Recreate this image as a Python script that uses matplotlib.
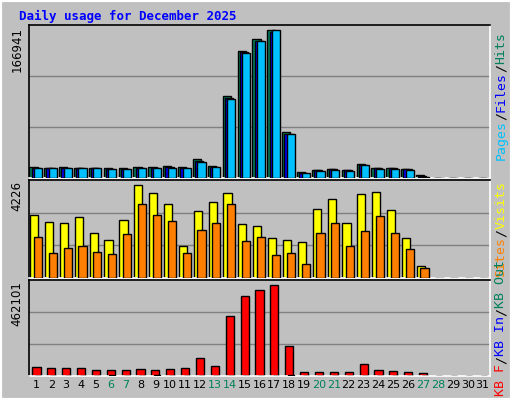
import matplotlib
matplotlib.use("Agg")
import matplotlib.pyplot as plt
import numpy as np

days = list(range(1, 32))
weekend = [6, 7, 13, 14, 20, 21, 27, 28]
hits = [12500, 11300, 12500, 11300, 11300, 11300, 11300, 12000, 12500, 13000, 12000, 21500, 13500,
        92500, 143000, 156600, 166941, 52000, 6800, 9000, 10200, 9000, 15800, 11300, 11300, 10200, 3400, 0, 0, 0, 0]
files = [11800, 11000, 11800, 11000, 11000, 10500, 10500, 11000, 11800, 12000, 11000, 19000, 12800,
         90000, 142000, 155000, 165000, 50000, 6000, 8500, 9800, 8600, 15000, 10800, 10800, 9600, 2500, 0, 0, 0, 0]
pages = [11500, 10800, 11500, 10800, 10800, 10200, 10200, 10800, 11500, 11800, 10800, 18500, 12500,
         89500, 141500, 154500, 166941, 49500, 5800, 8200, 9500, 8300, 14500, 10500, 10500, 9300, 1500, 0, 0, 0, 0]
visits = [2860, 2540, 2500, 2770, 2040, 1730, 2630, 4226, 3860, 3360, 1450, 3040, 3450, 3860, 2450, 2360,
          1820, 1730, 1640, 3140, 3590, 2500, 3820, 3910, 3090, 1820, 550, 0, 0, 0, 0]
sites = [1860, 1140, 1360, 1450, 1180, 1090, 2000, 3360, 2860, 2590, 1140, 2180, 2500, 3360, 1680, 1860,
         1050, 1140, 640, 2040, 2500, 1450, 2130, 2820, 2040, 1320, 450, 0, 0, 0, 0]
kbf = [45700, 40600, 40600, 40600, 30500, 30500, 30500, 35500, 30500, 35500, 40600, 91400, 50800,
       304700, 406200, 436700, 462101, 152300, 20300, 20300, 20300, 20300, 60900, 30500, 25400, 20300, 15200, 0, 0, 0, 0]
kbin = [0, 0, 0, 0, 0, 5000, 0, 0, 5000, 0, 0, 0, 0, 0, 0, 0, 0, 5000, 0, 0, 0, 0, 0, 0, 0, 0, 0, 0, 0, 0, 0]

W, H = 512, 400
fig = plt.figure(figsize=(W/100, H/100), dpi=100, facecolor="#c0c0c0")
fig.patches.append(plt.Rectangle((0, 0), 1, 1, transform=fig.transFigure, fill=False,
                                 edgecolor="white", lw=3))
fig.text(19/W, 1-16/H, "Daily usage for December 2025", color="#0000ff", fontsize=9,
         family="DejaVu Sans Mono", fontweight="bold", va="center")

L, R = 29, 490
def mkax(top, bot):
    ax = fig.add_axes([L/W, 1-bot/H, (R-L)/W, (bot-top)/H])
    ax.set_facecolor("#c0c0c0")
    ax.set_xlim(0.5, 31.5)
    for s in ax.spines.values():
        s.set_color("black"); s.set_linewidth(1.2)
    ax.spines["right"].set_color("white"); ax.spines["bottom"].set_color("white")
    ax.set_xticks([]); ax.set_yticks([])
    return ax

def grid(ax, top):
    for f in (1/3, 2/3):
        ax.axhline(top*f, color="#808080", lw=1, zorder=0)

x = np.array(days, dtype=float)
ek = dict(edgecolor="black", linewidth=1)

ax1 = mkax(25, 178)
t1 = 166941*153/148
ax1.set_ylim(0, t1); grid(ax1, t1)
ax1.bar(x-0.2, hits, 0.55, color="#00805c", **ek, zorder=2)
ax1.bar(x-0.05, files, 0.55, color="#0000ff", **ek, zorder=3)
ax1.bar(x+0.1, pages, 0.55, color="#00c0ff", **ek, zorder=4)
ax1.text(-0.012, 0.99, "166941", transform=ax1.transAxes, rotation=90, ha="right", va="top", fontsize=8.5)

ax2 = mkax(180, 278)
t2 = 4226*98/93
ax2.set_ylim(0, t2); grid(ax2, t2)
ax2.bar(x-0.15, visits, 0.55, color="#ffff00", **ek, zorder=2)
ax2.bar(x+0.1, sites, 0.55, color="#ff8000", **ek, zorder=3)
ax2.text(-0.012, 0.99, "4226", transform=ax2.transAxes, rotation=90, ha="right", va="top", fontsize=8.5)

ax3 = mkax(280, 376)
t3 = 462101*96/91
ax3.set_ylim(0, t3); grid(ax3, t3)
ax3.bar(x, kbf, 0.55, color="#ff0000", **ek, zorder=2)
ax3.bar(x+0.1, kbin, 0.4, color="#0000ff", **ek, zorder=3)
ax3.text(-0.012, 0.99, "462101", transform=ax3.transAxes, rotation=90, ha="right", va="top", fontsize=8.5)
ax3.set_xticks(days)
ax3.set_xticklabels([str(d) for d in days], fontsize=8)
ax3.tick_params(length=0, pad=3)
for lab, d in zip(ax3.get_xticklabels(), days):
    lab.set_color("#00805c" if d in weekend else "black")

FS = 9.5
STEP = 0.602*FS*100/72
def legend(parts, ymid):
    total = sum(len(p[0]) for p in parts) * STEP
    ypos = ymid + total/2
    for s, c in parts:
        fig.text(501/W, 1-ypos/H, s, rotation=90, color=c, fontsize=FS, family="DejaVu Sans Mono",
                 ha="center", va="bottom")
        ypos -= len(s)*STEP
legend([("Pages", "#00c0ff"), ("/", "black"), ("Files", "#0000ff"), ("/", "black"), ("Hits", "#00805c")], 96)
legend([("Sites", "#ff8000"), ("/", "black"), ("Visits", "#ffff00")], 229)
legend([("KB F", "#ff0000"), ("/", "black"), ("KB In", "#0000ff"), ("/", "black"), ("KB Out", "#00805c")], 328)

fig.savefig("out.png", dpi=100, facecolor=fig.get_facecolor())
